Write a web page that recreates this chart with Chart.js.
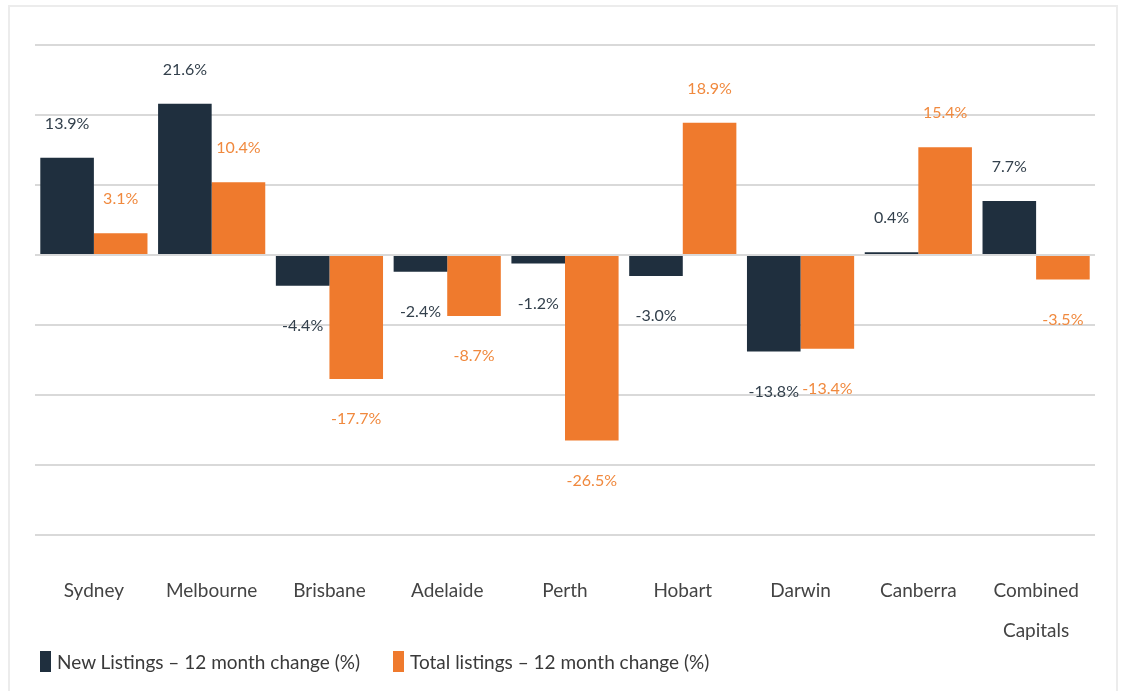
<!DOCTYPE html>
<html>
<head>
<meta charset="utf-8">
<script src="https://cdn.jsdelivr.net/npm/chart.js@4/dist/chart.umd.min.js"></script>
<style>
  html, body { margin: 0; padding: 0; background: #ffffff; }
  #wrap { position: relative; width: 1127px; height: 691px; overflow: hidden; }
  #frame { position: absolute; left: 8px; top: 5px; width: 1110px; height: 700px; border: 2px solid #ececec; box-sizing: border-box; }
  canvas { position: absolute; left: 0; top: 0; }
  #legend { position: absolute; left: 40px; top: 650px; height: 22px; display: flex; align-items: center;
            font-family: Lato, sans-serif; font-size: 19px; color: #3a3a3a; white-space: nowrap; }
  #legend .item { display: flex; align-items: center; margin-right: 33px; }
  #legend .box { width: 11px; height: 21px; margin-right: 6px; }
</style>
</head>
<body>
<div id="wrap">
  <div id="frame"></div>
  <canvas id="listingsChart" width="1127" height="691"></canvas>
  <div id="legend"></div>
</div>
<script>
const cities = ['Sydney', 'Melbourne', 'Brisbane', 'Adelaide', 'Perth', 'Hobart', 'Darwin', 'Canberra', ['Combined', 'Capitals']];
const newListings = [13.9, 21.6, -4.4, -2.4, -1.2, -3.0, -13.8, 0.4, 7.7];
const totalListings = [3.1, 10.4, -17.7, -8.7, -26.5, 18.9, -13.4, 15.4, -3.5];

const DARK = '#1f2f3e';
const ORANGE = '#ef7a2d';

// value labels above positive bars, below negative ones
const valueLabels = {
    id: 'valueLabels',
    afterDatasetsDraw(chart) {
        const ctx = chart.ctx;
        ctx.save();
        ctx.font = '16px Lato';
        ctx.textAlign = 'center';
        ctx.textBaseline = 'middle';
        chart.data.datasets.forEach((ds, i) => {
            const meta = chart.getDatasetMeta(i);
            ctx.fillStyle = ds.labelColor;
            meta.data.forEach((bar, j) => {
                const v = ds.data[j];
                const y = v >= 0 ? bar.y - 34 : bar.y + 40;
                ctx.fillText(v.toFixed(1) + '%', bar.x, y);
            });
        });
        ctx.restore();
    }
};

const chart = new Chart(document.getElementById('listingsChart').getContext('2d'), {
    type: 'bar',
    data: {
        labels: cities,
        datasets: [
            {
                label: 'New Listings \u2013 12 month change (%)',
                data: newListings,
                backgroundColor: DARK,
                labelColor: '#33404c',
                categoryPercentage: 0.91,
                barPercentage: 1.0
            },
            {
                label: 'Total listings \u2013 12 month change (%)',
                data: totalListings,
                backgroundColor: ORANGE,
                labelColor: '#f0893e',
                categoryPercentage: 0.91,
                barPercentage: 1.0
            }
        ]
    },
    options: {
        responsive: false,
        animation: false,
        layout: {
            padding: { left: 35, right: 32, top: 45, bottom: 36 }
        },
        plugins: {
            legend: { display: false },
            tooltip: { enabled: false }
        },
        scales: {
            x: {
                grid: { display: false },
                border: { display: false },
                afterFit(axis) { axis.height = 120; },
                ticks: {
                    color: '#444444',
                    padding: 28,
                    maxRotation: 0,
                    font: { family: 'Lato', size: 19, lineHeight: 2.1 }
                }
            },
            y: {
                min: -40,
                max: 30,
                border: { display: false },
                grid: { color: '#d9d9d9', lineWidth: 2, drawTicks: false },
                ticks: { display: false, stepSize: 10 }
            }
        }
    },
    plugins: [valueLabels]
});

// html legend from the datasets
const legendEl = document.getElementById('legend');
chart.data.datasets.forEach(ds => {
    const item = document.createElement('span');
    item.className = 'item';
    const box = document.createElement('span');
    box.className = 'box';
    box.style.background = ds.backgroundColor;
    item.appendChild(box);
    item.appendChild(document.createTextNode(ds.label));
    legendEl.appendChild(item);
});
</script>
</body>
</html>
